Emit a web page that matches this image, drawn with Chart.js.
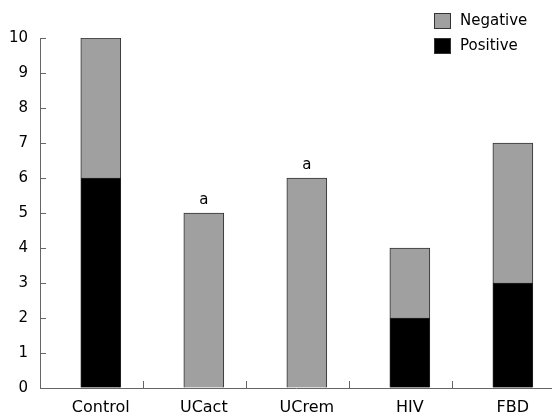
<!DOCTYPE html>
<html lang="en">
<head>
    <meta charset="UTF-8">
    <title>Positive / Negative by group</title>
    <style>
        * { margin: 0; padding: 0; box-sizing: border-box; }
        body { background: #fff; width: 552px; height: 414px; overflow: hidden; }
        .chart-box { position: relative; width: 552px; height: 414px; }
    </style>
    <script src="https://cdn.jsdelivr.net/npm/chart.js"></script>
</head>
<body>
    <div class="chart-box"><canvas id="groupChart"></canvas></div>

    <script>
        // Data
        const categories = ['Control', 'UCact', 'UCrem', 'HIV', 'FBD'];
        const positive = [6, 0, 0, 2, 3];
        const negative = [4, 5, 6, 2, 4];
        const marks = ['', 'a', 'a', '', ''];

        const FONT = '"DejaVu Sans", Verdana, sans-serif';
        const AXIS_COLOR = '#666';
        const GREY = '#a0a0a0';

        // bars sit a bit right of each category slot in the original,
        // so x runs on a linear scale with these bounds
        const xMin = -0.59;
        const xMax = 4.38;

        // inward tick marks + "a" labels + legend
        const extras = {
            id: 'extras',
            afterDraw(chart) {
                const ctx = chart.ctx;
                const area = chart.chartArea;
                const xs = chart.scales.x;
                const ys = chart.scales.y;
                ctx.save();
                ctx.strokeStyle = AXIS_COLOR;
                ctx.lineWidth = 1;
                ctx.beginPath();
                ys.ticks.forEach(t => {
                    const y = Math.round(ys.getPixelForValue(t.value)) + 0.5;
                    ctx.moveTo(area.left, y);
                    ctx.lineTo(area.left + 6, y);
                });
                for (let k = 1; k < categories.length; k++) {
                    const x = Math.round(xs.getPixelForValue(xMin + k)) + 0.5;
                    ctx.moveTo(x, area.bottom);
                    ctx.lineTo(x, area.bottom - 7);
                }
                ctx.stroke();

                // significance letters above the stacks
                ctx.fillStyle = '#000';
                ctx.font = '15px ' + FONT;
                ctx.textAlign = 'center';
                ctx.textBaseline = 'middle';
                marks.forEach((m, i) => {
                    if (!m) return;
                    let top = Infinity, cx = 0;
                    chart.data.datasets.forEach((ds, d) => {
                        const el = chart.getDatasetMeta(d).data[i];
                        if (el.y < top) { top = el.y; cx = el.x; }
                    });
                    ctx.fillText(m, cx, top - 13);
                });

                // legend, top right
                const items = [
                    { label: 'Negative', color: GREY },
                    { label: 'Positive', color: '#000' }
                ];
                ctx.textAlign = 'left';
                items.forEach((it, i) => {
                    const y = 13 + i * 25;
                    ctx.fillStyle = it.color;
                    ctx.fillRect(434, y, 17, 16);
                    ctx.strokeStyle = '#333';
                    ctx.strokeRect(434.5, y + 0.5, 16, 15);
                    ctx.fillStyle = '#000';
                    ctx.fillText(it.label, 460, y + 8);
                });
                ctx.restore();
            }
        };

        new Chart(document.getElementById('groupChart'), {
            type: 'bar',
            data: {
                datasets: [
                    {
                        label: 'Positive',
                        data: positive.map((v, i) => ({ x: i, y: v })),
                        backgroundColor: '#000',
                        borderColor: '#222',
                        borderWidth: 1,
                        barThickness: 40
                    },
                    {
                        label: 'Negative',
                        data: negative.map((v, i) => ({ x: i, y: v })),
                        backgroundColor: GREY,
                        borderColor: '#333',
                        borderWidth: 1,
                        barThickness: 40
                    }
                ]
            },
            options: {
                responsive: true,
                maintainAspectRatio: false,
                animation: false,
                layout: { padding: { top: 38, right: 0, bottom: 0, left: 0 } },
                plugins: {
                    legend: { display: false },
                    tooltip: { enabled: false }
                },
                scales: {
                    x: {
                        type: 'linear',
                        stacked: true,
                        offset: false,
                        min: xMin,
                        max: xMax,
                        afterBuildTicks: (scale) => {
                            scale.ticks = categories.map((_, i) => ({ value: i }));
                        },
                        afterFit: (scale) => { scale.height = 26; },
                        grid: { display: true, offset: false, drawOnChartArea: false, drawTicks: false },
                        border: { display: true, color: AXIS_COLOR, width: 1 },
                        ticks: {
                            padding: 10,
                            color: '#000',
                            font: { family: FONT, size: 16 },
                            autoSkip: false,
                            maxRotation: 0,
                            callback: (v) => categories[v]
                        }
                    },
                    y: {
                        stacked: true,
                        min: 0,
                        max: 10,
                        afterFit: (scale) => { scale.width = 40; },
                        grid: { display: true, drawOnChartArea: false, drawTicks: false },
                        border: { display: true, color: AXIS_COLOR, width: 1 },
                        ticks: {
                            stepSize: 1,
                            padding: 12,
                            color: '#000',
                            font: { family: FONT, size: 15 }
                        }
                    }
                }
            },
            plugins: [extras]
        });
    </script>
</body>
</html>
